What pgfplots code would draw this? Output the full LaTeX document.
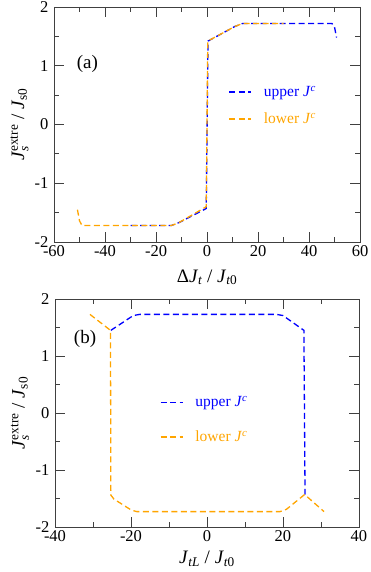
\documentclass[border=0pt]{standalone}
\usepackage{amsmath}
\usepackage{fontspec}
\setmainfont{Liberation Serif}
\usepackage{pgfplots}
\pgfplotsset{compat=1.18}
\definecolor{cblue}{RGB}{0,0,255}
\definecolor{corange}{RGB}{255,165,0}

\pgfplotsset{
  panel/.style={
    scale only axis,
    axis line style={black!75, line width=0.9pt},
    every tick/.style={black!75, line width=0.9pt},
    major tick length=10pt, minor tick length=5pt,
    tick align=inside,
    /pgf/number format/assume math mode=true,
    tick label style={font=\rmfamily\fontsize{16.5}{18}\selectfont},
    yticklabel style={xshift=-2pt},
    label style={font=\rmfamily\fontsize{19}{22}\selectfont},
    ymin=-2, ymax=2, ytick distance=1, minor y tick num=1,
    minor x tick num=1,
    ylabel={\textit{J}$_{\textit{s}}^{\text{extre}}$ / \textit{J}$_{\text{s0}}$},
    legend style={draw=none, fill=none, inner sep=0pt,
      font=\rmfamily\fontsize{15.5}{17}\selectfont, anchor=west},
    legend cell align=left,
    legend image code/.code={\draw[#1] (0pt,0pt) -- (22pt,0pt);},
    /tikz/every odd column/.style={column sep=10pt},
  },
  upl/.style={color=cblue, line width=1.3pt, dash pattern=on 6pt off 3.5pt},
  lol/.style={color=corange, line width=1.3pt, dash pattern=on 6pt off 3.5pt},
}

\begin{document}
\begin{tikzpicture}
\path[use as bounding box] (0,0) rectangle (371pt,-572pt);

% panel (a)
\begin{axis}[panel,
  at={(54pt,-7pt)}, anchor=north west,
  width=306pt, height=235pt,
  xmin=-60, xmax=60, xtick distance=20,
  xlabel={Δ\textit{J}$_{\textit{t}}$ / \textit{J}$_{\textit{t}\text{0}}$},
  xlabel style={at={(axis description cs:0.5,-0.15)}, anchor=center},
  ylabel style={at={(axis description cs:-0.113,0.5)}, anchor=center},
  legend style={at={(axis description cs:0.57,0.58)}, row sep=11pt},
]
\addlegendimage{upl}
\addlegendentry[text=cblue]{upper \textit{J}\textsuperscript{\textit{c}}}
\addlegendimage{lol}
\addlegendentry[text=corange]{lower \textit{J}\textsuperscript{\textit{c}}}
\addplot[upl, forget plot] coordinates {
  (-30,-1.72) (-14,-1.72) (-11,-1.67) (-0.3,-1.43) (0.4,1.42) (11,1.67)
  (14,1.72) (49,1.72) (50,1.66) (50.8,1.48)
};
\addplot[lol, forget plot] coordinates {
  (-50.8,-1.45) (-50,-1.64) (-49,-1.72) (-14,-1.72) (-11,-1.67) (-0.3,-1.40)
  (0.3,1.42) (11,1.67) (14,1.72) (30,1.72)
};
\node[font=\rmfamily\fontsize{19}{22}\selectfont] at (axis cs:-46.9,1.03) {(a)};
\end{axis}

% panel (b)
\begin{axis}[panel,
  at={(55pt,-299pt)}, anchor=north west,
  width=304pt, height=228pt,
  xmin=-40, xmax=40, xtick distance=20,
  xlabel={\textit{J}$_{\textit{tL}}$ / \textit{J}$_{\textit{t}\text{0}}$},
  xlabel style={at={(axis description cs:0.5,-0.14)}, anchor=center},
  ylabel style={at={(axis description cs:-0.115,0.5)}, anchor=center},
  legend style={at={(axis description cs:0.345,0.47)}, row sep=18.4pt},
]
\addlegendimage{upl}
\addlegendentry[text=cblue]{upper \textit{J}\textsuperscript{\textit{c}}}
\addlegendimage{lol}
\addlegendentry[text=corange]{lower \textit{J}\textsuperscript{\textit{c}}}
\addplot[upl, forget plot] coordinates {
  (-25.3,1.45) (-19.4,1.71) (-17.7,1.73) (18.3,1.73) (20,1.71)
  (25.5,1.45) (25.8,-1.43)
};
\addplot[lol, forget plot] coordinates {
  (-30.8,1.73) (-25.4,1.45) (-25.3,-1.44) (-24.5,-1.51) (-20,-1.70)
  (-18.5,-1.73) (19.2,-1.73) (20.9,-1.69) (25.7,-1.43) (30.8,-1.73)
};
\node[font=\rmfamily\fontsize{19}{22}\selectfont] at (axis cs:-32.1,1.30) {(b)};
\end{axis}
\end{tikzpicture}
\end{document}
